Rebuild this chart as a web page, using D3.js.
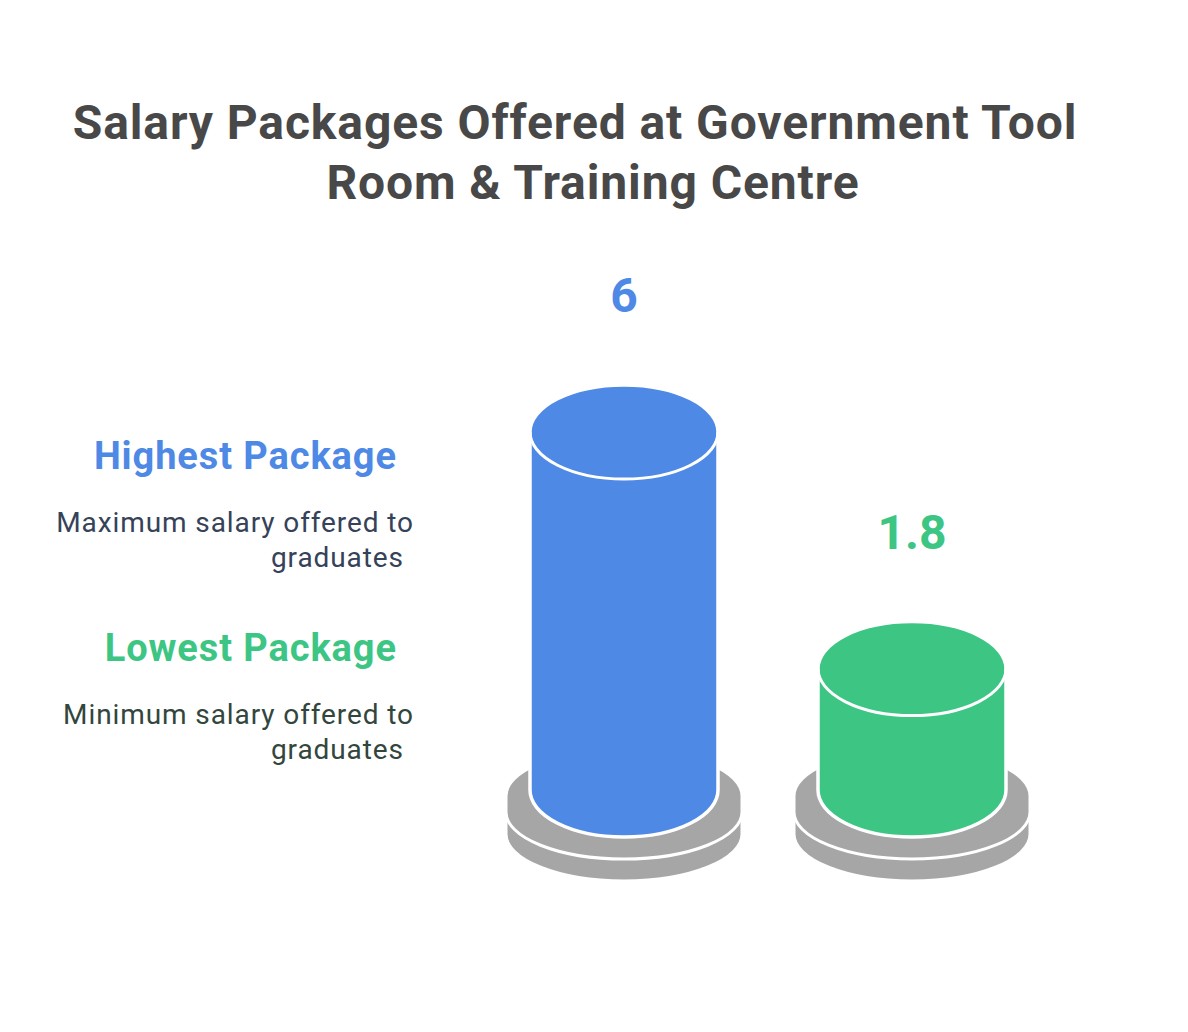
<!DOCTYPE html>
<html>
<head>
<meta charset="utf-8">
<script src="https://cdn.jsdelivr.net/npm/d3@7"></script>
<style>
  html, body { margin: 0; padding: 0; background: #ffffff; }
  svg { display: block; font-family: Roboto, "Noto Sans", sans-serif; }
</style>
</head>
<body>
<svg id="chart" width="1188" height="1032"></svg>
<script>
// Salary packages (in lakh per annum)
const categories = ["Highest Package", "Lowest Package"];
const values = [6, 1.8];
const valueLabels = ["6", "1.8"];
const descriptions = [
  ["Maximum salary offered to", "graduates"],
  ["Minimum salary offered to", "graduates"]
];
const titleLines = ["Salary Packages Offered at Government Tool", "Room & Training Centre"];

const fills = ["#4e89e5", "#3dc584"];
const descColors = ["#354259", "#33463d"];
const baseGrey = "#a6a6a6";
const tracking = 0.9;

const svg = d3.select("#chart");

// Title
svg.append("g").selectAll("text")
  .data(titleLines)
  .join("text")
  .attr("x", (d, i) => i === 0 ? 575 : 593)
  .attr("y", (d, i) => 139 + i * 60)
  .attr("text-anchor", "middle")
  .attr("font-size", 48)
  .attr("font-weight", 700)
  .attr("letter-spacing", tracking)
  .attr("fill", "#484848")
  .text(d => d);

// Scales
const x = d3.scalePoint().domain(categories).range([624, 912]);
const y = d3.scaleLinear().domain([0, 6]).range([770, 432]);

const rx = 94, ry = 47;       // cylinder ellipse radii
const baseRx = 118;            // plate radius
const bottomY = 790;           // centre of cylinder bottom ellipse

function solid(cx, r, top, bot) {
  return `M${cx - r},${top} A${r},${ry} 0 0 1 ${cx + r},${top} ` +
         `L${cx + r},${bot} A${r},${ry} 0 0 1 ${cx - r},${bot} Z`;
}
function frontRim(cx, r, top) {
  return `M${cx - r},${top} A${r},${ry} 0 0 0 ${cx + r},${top}`;
}

const g = svg.append("g");
const items = categories.map((c, i) => ({ c, v: values[i], i }));

items.forEach(d => {
  const cx = x(d.c);
  const grp = g.append("g");
  // two stacked plates under each cylinder
  grp.append("path")
    .attr("d", solid(cx, baseRx, 816, 834))
    .attr("fill", baseGrey).attr("stroke", "#fff").attr("stroke-width", 3);
  grp.append("path")
    .attr("d", solid(cx, baseRx, 796, 812))
    .attr("fill", baseGrey).attr("stroke", "#fff").attr("stroke-width", 3);
  // cylinder body
  const top = y(d.v);
  grp.append("path")
    .attr("d", solid(cx, rx, top, bottomY))
    .attr("fill", fills[d.i]).attr("stroke", "#fff").attr("stroke-width", 3.5);
  grp.append("path")
    .attr("d", frontRim(cx, rx, top))
    .attr("fill", "none").attr("stroke", "#fff").attr("stroke-width", 3);
  // value label
  grp.append("text")
    .attr("x", cx)
    .attr("y", top - ry - 73)
    .attr("text-anchor", "middle")
    .attr("font-size", 48)
    .attr("font-weight", 700)
    .attr("fill", fills[d.i])
    .text(valueLabels[d.i]);
});

// Legend descriptions on the left
const legend = svg.append("g");
items.forEach(d => {
  const base = 469 + d.i * 192;
  legend.append("text")
    .attr("x", 396 + tracking)
    .attr("y", base)
    .attr("text-anchor", "end")
    .attr("font-size", 38)
    .attr("font-weight", 700)
    .attr("letter-spacing", tracking)
    .attr("fill", fills[d.i])
    .text(d.c);
  legend.append("g").selectAll("text")
    .data(descriptions[d.i])
    .join("text")
    .attr("x", (t, j) => (j === 0 ? 413 : 403) + tracking)
    .attr("y", (t, j) => base + 63 + j * 35)
    .attr("text-anchor", "end")
    .attr("font-size", 28)
    .attr("letter-spacing", tracking)
    .attr("fill", descColors[d.i])
    .text(t => t);
});
</script>
</body>
</html>
